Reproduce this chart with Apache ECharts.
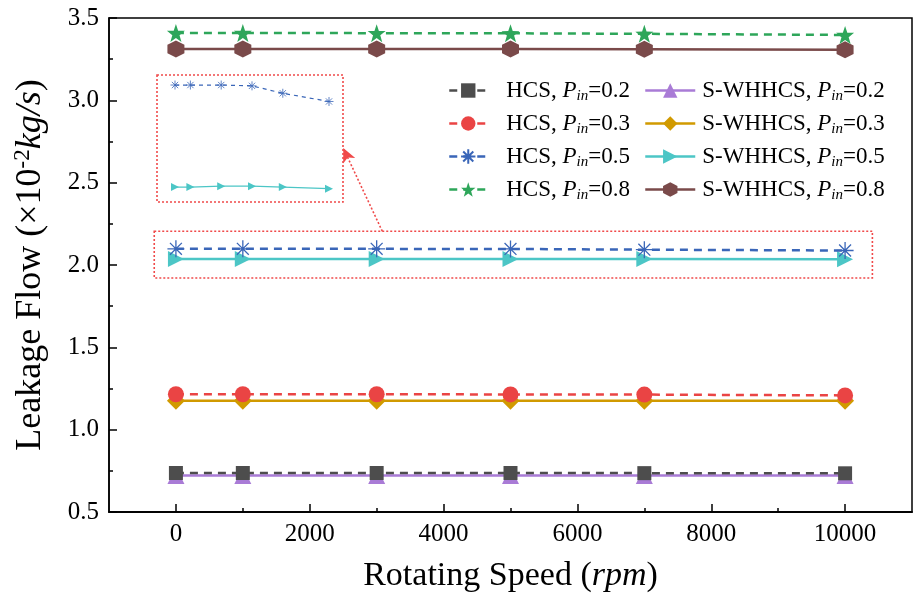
<!DOCTYPE html>
<html>
<head>
<meta charset="utf-8">
<script src="https://cdn.jsdelivr.net/npm/echarts@6/dist/echarts.min.js"></script>
<style>
  html, body { margin: 0; padding: 0; background: #fff; }
  #chart { width: 913px; height: 598px; }
</style>
</head>
<body>
<div id="chart"></div>
<script>
// rotating speed (rpm)
const speeds = [0, 1000, 3000, 5000, 7000, 10000]
// leakage flow, x10^-2 kg/s
const hcs02 = [0.737, 0.737, 0.737, 0.737, 0.736, 0.735]
const hcs03 = [1.215, 1.215, 1.215, 1.214, 1.213, 1.208]
const hcs05 = [2.098, 2.098, 2.098, 2.0975, 2.093, 2.088]
const hcs08 = [3.409, 3.409, 3.408, 3.407, 3.404, 3.397]
const sw02 = [0.722, 0.722, 0.722, 0.722, 0.722, 0.721]
const sw03 = [1.176, 1.176, 1.176, 1.176, 1.176, 1.175]
const sw05 = [2.036, 2.036, 2.0365, 2.0365, 2.036, 2.035]
const sw08 = [3.312, 3.312, 3.312, 3.311, 3.310, 3.307]
const pinLabels = ['0.2', '0.3', '0.5', '0.8']
const xLabels = [0, 2000, 4000, 6000, 8000, 10000]
const xMinor = [1000, 3000, 5000, 7000, 9000]

const FONT = 'Liberation Serif'
const toPts = (arr) => speeds.map((x, i) => [x, arr[i]])

const asterisk = 'path://M0,-10L0,10M-10,0L10,0M-7,-7L7,7M-7,7L7,-7'
const star = 'path://M0,-10L2.35,-3.24L9.51,-3.09L3.8,1.24L5.88,8.09L0,4L-5.88,8.09L-3.8,1.24L-9.51,-3.09L-2.35,-3.24Z'
const hexagon = 'path://M0,-10L8.66,-5L8.66,5L0,10L-8.66,5L-8.66,-5Z'
const rightTri = 'path://M0,0L10,5.5L0,11Z'

const hcsColors = ['#4d4d4d', '#ea4444', '#3a66b8', '#2ea65a']
const swColors = ['#a97bd6', '#d19a00', '#4cc6c6', '#7a4a4a']
const hcsSym = ['rect', 'circle', asterisk, star]
const swSym = ['triangle', 'diamond', rightTri, hexagon]
const hcsSize = [14, 16, 17, 18]
const swSize = [17, 18, 16, 17]
const hcsData = [hcs02, hcs03, hcs05, hcs08]
const swData = [sw02, sw03, sw05, sw08]

const hcsNames = pinLabels.map(p => 'HCS, ' + p)
const swNames = pinLabels.map(p => 'S-WHHCS, ' + p)

const series = []
hcsData.forEach((d, i) => {
  const s = {
    name: hcsNames[i],
    type: 'line',
    data: toPts(d),
    symbol: hcsSym[i],
    symbolSize: hcsSize[i],
    color: hcsColors[i],
    lineStyle: { width: 2.5, type: [8, 6] },
    itemStyle: i === 2 ? { borderColor: hcsColors[i], borderWidth: 1.3 } : {},
    z: 3
  }
  if (i === 2) {
    // dotted box round the zoomed lines
    s.markArea = {
      silent: true,
      itemStyle: { color: 'rgba(0,0,0,0)', borderColor: '#f04a4a', borderWidth: 1.6, borderType: [2, 2] },
      data: [[{ coord: [-324, 2.205] }, { coord: [10408, 1.921] }]]
    }
  }
  series.push(s)
})
swData.forEach((d, i) => {
  const s = {
    name: swNames[i],
    type: 'line',
    data: toPts(d),
    symbol: swSym[i],
    symbolSize: swSize[i],
    color: swColors[i],
    lineStyle: { width: 2.5 },
    z: 2
  }
  if (i === 2) {
    s.markLine = {
      silent: true,
      symbol: ['none', 'arrow'],
      symbolSize: [10, 14],
      label: { show: false },
      lineStyle: { color: '#f04a4a', width: 1.6, type: [2, 2] },
      data: [[{ coord: [3084, 2.205] }, { coord: [2501, 2.71] }]]
    }
  }
  series.push(s)
})
// inset (zoomed view of P_in=0.5)
series.push({
  name: 'inset-hcs', type: 'line', xAxisIndex: 2, yAxisIndex: 1,
  data: toPts(hcs05), symbol: asterisk, symbolSize: 9, color: '#3a66b8',
  itemStyle: { borderColor: '#3a66b8', borderWidth: 0.8 },
  lineStyle: { width: 1.2, type: [4, 4] }
})
series.push({
  name: 'inset-sw', type: 'line', xAxisIndex: 2, yAxisIndex: 1,
  data: toPts(sw05), symbol: rightTri, symbolSize: 8, color: '#4cc6c6',
  lineStyle: { width: 1.2 }
})

const legendRich = {
  n: { fontFamily: FONT, fontSize: 23, color: '#000' },
  p: { fontFamily: FONT, fontSize: 23, fontStyle: 'italic', color: '#000' },
  s: { fontFamily: FONT, fontSize: 15, fontStyle: 'italic', color: '#000', padding: [12, 0, 0, 0] }
}
const legendFmt = (name) => {
  const parts = name.split(', ')
  return '{n|' + parts[0] + ', }{p|P}{s|in}{n|=' + parts[1] + '}'
}

const option = {
  animation: false,
  backgroundColor: '#fff',
  grid: [
    { left: 109, right: 1, top: 18, bottom: 84, show: true, borderColor: '#000', borderWidth: 1.5 },
    { left: 157, top: 75, width: 186, height: 127 }
  ],
  legend: [
    {
      data: hcsNames, orient: 'vertical', left: 443, top: 74, itemWidth: 38, itemHeight: 18,
      itemGap: 8, formatter: legendFmt, lineStyle: { width: 2.5 },
      textStyle: { rich: legendRich, padding: [0, 0, 0, 14] }
    },
    {
      data: swNames, orient: 'vertical', left: 639, top: 74, itemWidth: 50, itemHeight: 18,
      itemGap: 8, formatter: legendFmt, lineStyle: { width: 2.5 },
      textStyle: { rich: legendRich, padding: [0, 0, 0, 2] }
    }
  ],
  xAxis: [
    {
      type: 'value', min: -1000, max: 11000, gridIndex: 0,
      name: '{t|Rotating Speed (}{i|rpm}{t|)}', nameLocation: 'middle', nameGap: 47,
      nameTextStyle: {
        rich: {
          t: { fontFamily: FONT, fontSize: 34, color: '#000' },
          i: { fontFamily: FONT, fontSize: 34, fontStyle: 'italic', color: '#000' }
        }
      },
      splitLine: { show: false },
      axisLine: { onZero: false, lineStyle: { color: '#000', width: 1.5 } },
      axisTick: { inside: true, length: 8, customValues: xLabels, lineStyle: { color: '#000', width: 1.5 } },
      axisLabel: { customValues: xLabels, fontFamily: FONT, fontSize: 25, color: '#000', margin: 10, formatter: v => String(v) }
    },
    {
      type: 'value', min: -1000, max: 11000, gridIndex: 0, position: 'bottom',
      splitLine: { show: false },
      axisLine: { onZero: false, lineStyle: { color: '#000', width: 1.5 } },
      axisTick: { inside: true, length: 4, customValues: xMinor, lineStyle: { color: '#000', width: 1.5 } },
      axisLabel: { show: false }
    },
    { type: 'value', gridIndex: 1, min: -1169, max: 10909, show: false }
  ],
  yAxis: [
    {
      type: 'value', min: 0.5, max: 3.5, interval: 0.5, gridIndex: 0,
      name: '{t|Leakage Flow (×10}{sup|-2}{i|kg/s}{t|)}', nameLocation: 'middle', nameGap: 58,
      nameTextStyle: {
        rich: {
          t: { fontFamily: FONT, fontSize: 36, color: '#000' },
          i: { fontFamily: FONT, fontSize: 36, fontStyle: 'italic', color: '#000' },
          sup: { fontFamily: FONT, fontSize: 23, color: '#000', padding: [0, 0, 17, 0] }
        }
      },
      splitLine: { show: false },
      axisLine: { onZero: false, lineStyle: { color: '#000', width: 1.5 } },
      axisTick: { inside: true, length: 8, lineStyle: { color: '#000', width: 1.5 } },
      minorTick: { show: true, splitNumber: 2, length: 4, lineStyle: { color: '#000', width: 1.5 } },
      axisLabel: { fontFamily: FONT, fontSize: 25, color: '#000', margin: 10, formatter: v => v.toFixed(1) }
    },
    { type: 'value', gridIndex: 1, min: 2.0269, max: 2.1041, show: false }
  ],
  graphic: [
    {
      type: 'rect', silent: true, z: 10,
      shape: { x: 157, y: 75, width: 186, height: 127 },
      style: { fill: 'none', stroke: '#f04a4a', lineWidth: 1.6, lineDash: [2, 2] }
    }
  ],
  series: series
}

const myChart = echarts.init(document.getElementById('chart'))
myChart.setOption(option)
</script>
</body>
</html>
